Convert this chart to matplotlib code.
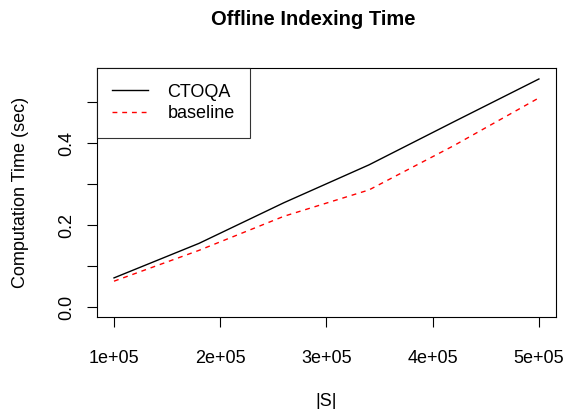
import matplotlib
matplotlib.use("Agg")
import matplotlib.pyplot as plt

plt.rcParams['font.family'] = ['Liberation Sans', 'DejaVu Sans']

# data
set_size = [100000, 180000, 260000, 340000, 420000, 500000]
ctoqa = [0.072, 0.156, 0.255, 0.347, 0.452, 0.556]
baseline = [0.064, 0.139, 0.222, 0.286, 0.394, 0.510]
xticks = [100000, 200000, 300000, 400000, 500000]
xtick_labels = ["1e+05", "2e+05", "3e+05", "4e+05", "5e+05"]
yticks = [0.0, 0.1, 0.2, 0.3, 0.4, 0.5]
ytick_labels = ["0.0", "", "0.2", "", "0.4", ""]

fig = plt.figure(figsize=(5.69, 4.09), dpi=100)
ax = fig.add_axes([0.1705, 0.2257, 0.977 - 0.1705, 0.833 - 0.2257])

ax.plot(set_size, ctoqa, color="black", lw=1.0, label="CTOQA")
ax.plot(set_size, baseline, color="red", lw=1.0, ls=(0, (3.5, 3.5)), label="baseline")

ax.set_xlim(84000, 516000)
ax.set_ylim(-0.0224, 0.582)
ax.set_xticks(xticks)
ax.set_xticklabels(xtick_labels)
ax.set_yticks(yticks)
ax.set_yticklabels(ytick_labels, rotation=90, va="center")
ax.tick_params(length=7, width=0.8, labelsize=13, pad=9)
ax.tick_params(axis="x", pad=17)

for s in ax.spines.values():
    s.set_linewidth(0.8)

ax.set_xlabel("|S|", fontsize=13, labelpad=19)
ax.set_ylabel("Computation Time (sec)", fontsize=13, labelpad=21)
fig.text(313 / 569, 0.952, "Offline Indexing Time", fontsize=14.5,
         fontweight="bold", ha="center", va="center")

leg = ax.legend(loc="upper left", fontsize=13, frameon=True, fancybox=False,
                borderaxespad=0, handlelength=1.95, borderpad=0.85, labelspacing=0.25,
                handletextpad=1.1)
leg.get_frame().set_edgecolor("black")
leg.get_frame().set_linewidth(0.8)

fig.savefig("out.png", dpi=100)
